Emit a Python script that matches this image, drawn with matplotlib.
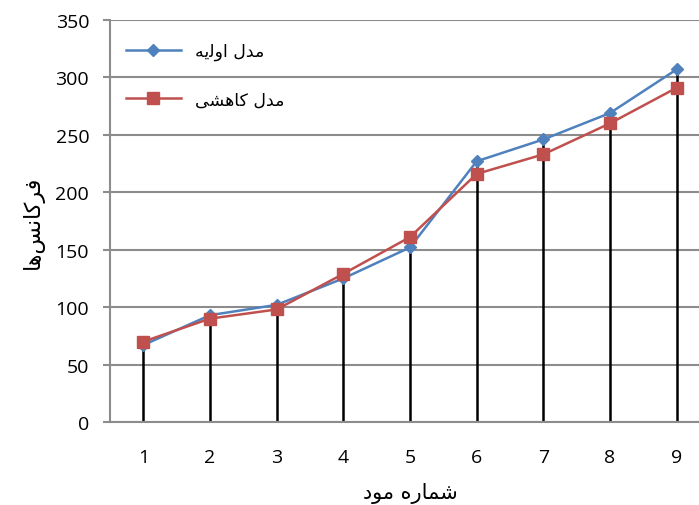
import matplotlib.pyplot as plt

# data
modes = [1, 2, 3, 4, 5, 6, 7, 8, 9]
initial_model = [67, 93, 102, 125, 152, 227, 246, 269, 307]
reduced_model = [70, 90, 98, 129, 161, 216, 233, 260, 291]
y_ticks = [0, 50, 100, 150, 200, 250, 300, 350]

# Persian labels written in presentation forms (visual order), matplotlib does no shaping
label_initial = '\uFEEA\uFBFE\uFEDF\uFEED\uFE8D \uFEDD\uFEAA\uFEE3'   # مدل اولیه
label_reduced = '\uFBFD\uFEB8\uFEEB\uFE8E\uFB90 \uFEDD\uFEAA\uFEE3'   # مدل کاهشی
ylabel_text = '\uFE8E\uFEEB\uFEB2\uFEE7\uFE8E\uFB90\uFEAE\uFED3'        # فرکانس‌ها
xlabel_text = '\uFEA9\uFEEE\uFEE3 \uFEE9\uFEAD\uFE8E\uFEE4\uFEB7'       # شماره مود

blue = '#4F81BD'
red = '#C0504D'
grid_gray = '#8C8C8C'

plt.rcParams['font.family'] = ['Open Sans', 'DejaVu Sans']

fig = plt.figure(figsize=(6.99, 5.06), dpi=100)
# the plot area runs past the right edge of the picture, as in the reference
ax = fig.add_axes([110 / 699, 83 / 506, 600 / 699, 402 / 506])

ax.set_xlim(0.5, 9.5)
ax.set_ylim(0, 350)
ax.set_yticks(y_ticks)
ax.set_xticks(modes)
ax.yaxis.grid(True, color=grid_gray, linewidth=1.5)
ax.set_axisbelow(True)

# drop lines
tops = [max(a, b) for a, b in zip(initial_model, reduced_model)]
ax.vlines(modes, 0, tops, colors='black', linewidth=1.8, zorder=2)

ax.plot(modes, initial_model, color=blue, linewidth=1.8, marker='D', markersize=6,
        label=label_initial, zorder=3)
ax.plot(modes, reduced_model, color=red, linewidth=1.8, marker='s', markersize=8,
        label=label_reduced, zorder=3)

for side in ['top', 'right']:
    ax.spines[side].set_visible(False)
ax.spines['left'].set_color(grid_gray)
ax.spines['bottom'].set_color(grid_gray)
ax.spines['left'].set_linewidth(1.5)
ax.spines['bottom'].set_linewidth(1.5)

ax.tick_params(axis='y', length=5, width=1.5, color=grid_gray, labelsize=14, pad=10)
ax.tick_params(axis='x', length=0, labelsize=14, pad=19)

ax.set_ylabel(ylabel_text, fontsize=16, family='DejaVu Sans', labelpad=8)
ax.set_xlabel(xlabel_text, fontsize=15, family='DejaVu Sans', labelpad=11)

leg = ax.legend(loc='upper left', bbox_to_anchor=(0.0, 0.985), frameon=False,
                handlelength=3.2, labelspacing=1.75,
                prop={'family': 'DejaVu Sans', 'size': 12.5})

fig.savefig('out.png', dpi=100)
